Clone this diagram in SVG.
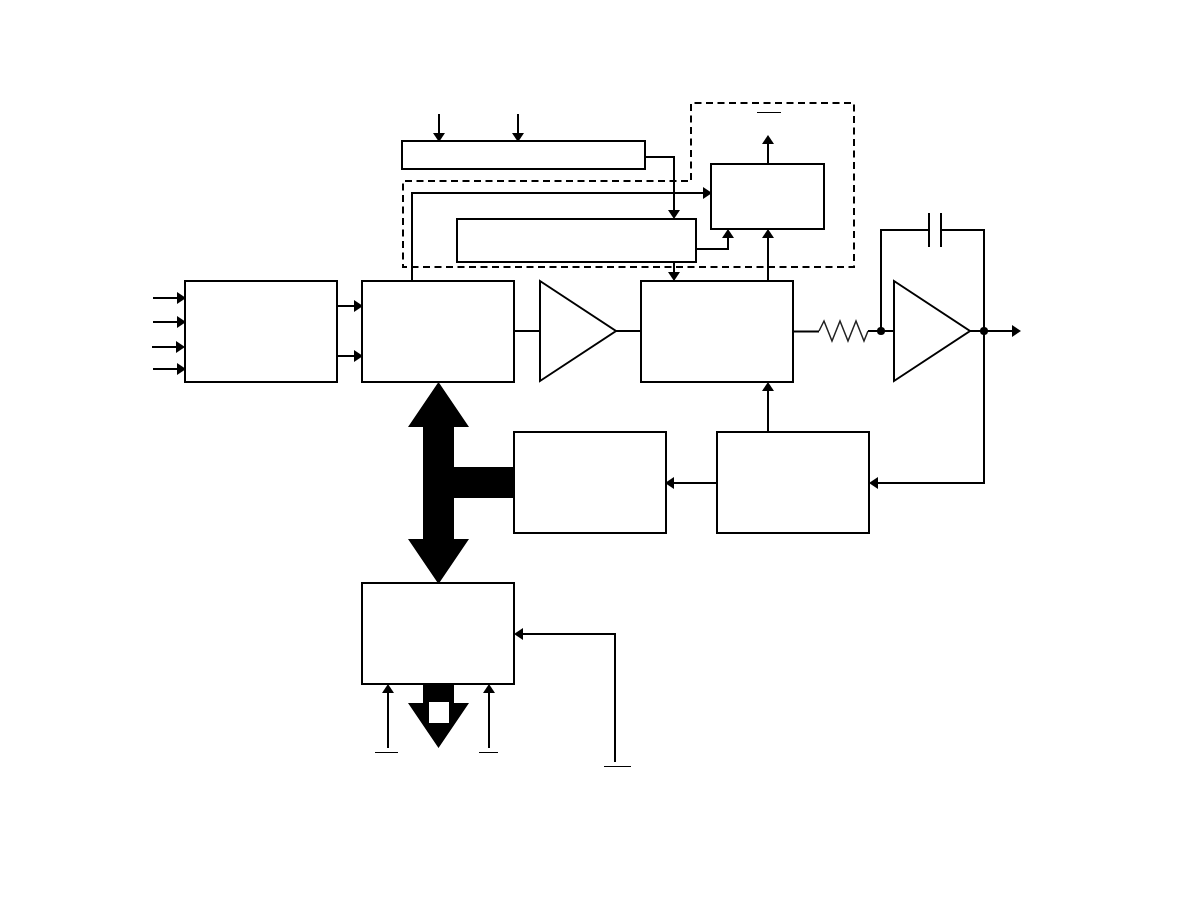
<svg xmlns="http://www.w3.org/2000/svg" width="1188" height="918" viewBox="0 0 1188 918">
<style>
.b{fill:#fff;stroke:#000;stroke-width:2}
.l{fill:none;stroke:#000;stroke-width:2}
.t{fill:none;stroke:#000;stroke-width:1}
.d{fill:none;stroke:#000;stroke-width:2;stroke-dasharray:7 4.5}
.a{fill:#000}
</style>
<defs>
<path id="ar" class="a" d="M0 0L-9 -6V6Z"/>
<path id="al" class="a" d="M0 0L9 -6V6Z"/>
<path id="au" class="a" d="M0 0L-6 9H6Z"/>
<path id="ad" class="a" d="M0 0L-6 -9H6Z"/>
</defs>
<rect width="1188" height="918" fill="#fff"/>
<g id="dashed">
<path class="d" d="M691 180V103H854V267H403V181H691"/>
</g>
<g id="bus">
<path class="a" d="M438.500 382L469 427H454V467H514V498H454V539H469L438.500 584L408 539H423V427H408Z"/>
<path class="a" d="M423 684H454V703H469L438.500 748L408 703H423Z"/>
<rect x="429" y="702" width="20" height="21" fill="#fff"/>
</g>
<g id="connectors">
<path class="l" d="M439 114V141M518 114V141"/>
<use href="#ad" x="439" y="142"/><use href="#ad" x="518" y="142"/>
<path class="l" d="M645 157H674V210"/>
<use href="#ad" x="674" y="219"/>
<path class="l" d="M412 281V193H703"/>
<use href="#ar" x="712" y="193"/>
<path class="l" d="M696 249H728V238"/>
<use href="#au" x="728" y="229"/>
<path class="l" d="M674 262V272"/>
<use href="#ad" x="674" y="281"/>
<path class="l" d="M768 281V238"/>
<use href="#au" x="768" y="229"/>
<path class="l" d="M768 164V144"/>
<use href="#au" x="768" y="135"/>
<path class="l" d="M153 298H178M153 322H178M152 347H177M153 369H178"/>
<use href="#ar" x="186" y="298"/><use href="#ar" x="186" y="322"/><use href="#ar" x="185" y="347"/><use href="#ar" x="186" y="369"/>
<path class="l" d="M337 306H354M337 356H354"/>
<use href="#ar" x="363" y="306"/><use href="#ar" x="363" y="356"/>
<path class="l" d="M514 331H540M616 331H641"/>
<path class="l" d="M793 331.500H819" stroke-width="2.500"/>
<path fill="none" stroke="#222" stroke-width="1.500" d="M819 331L824 321L832 341L840 321L848 341L856 321L864 341L868 331"/>
<path class="l" d="M868 331H894"/>
<path class="l" d="M881 331V230H928M942 230H984V483H878"/>
<path class="l" d="M929 213V247M941 213V247"/>
<circle class="a" cx="881" cy="331" r="4"/>
<circle class="a" cx="984" cy="331" r="4"/>
<path class="l" d="M970 331H1013"/>
<use href="#ar" x="1021" y="331"/>
<use href="#al" x="869" y="483"/>
<path class="l" d="M768 432V391"/>
<use href="#au" x="768" y="382"/>
<path class="l" d="M717 483H674"/>
<use href="#al" x="665" y="483"/>
<path class="l" d="M615 762V634H523"/>
<use href="#al" x="514" y="634"/>
<path class="l" d="M388 748V693M489 748V693"/>
<use href="#au" x="388" y="684"/><use href="#au" x="489" y="684"/>
<path class="t" d="M757 112.500H781M375 752.500H398M479 752.500H498M604 766.500H631"/>
</g>
<g id="n1"><rect class="b" x="402" y="141" width="243" height="28"/></g>
<g id="n2"><rect class="b" x="457" y="219" width="239" height="43"/></g>
<g id="n3"><rect class="b" x="711" y="164" width="113" height="65"/></g>
<g id="n4"><rect class="b" x="185" y="281" width="152" height="101"/></g>
<g id="n5"><rect class="b" x="362" y="281" width="152" height="101"/></g>
<g id="n6"><path class="b" d="M540 281L616 331L540 381Z"/></g>
<g id="n7"><rect class="b" x="641" y="281" width="152" height="101"/></g>
<g id="n8"><path class="b" d="M894 281L970 331L894 381Z"/></g>
<g id="n9"><rect class="b" x="514" y="432" width="152" height="101"/></g>
<g id="n10"><rect class="b" x="717" y="432" width="152" height="101"/></g>
<g id="n11"><rect class="b" x="362" y="583" width="152" height="101"/></g>
</svg>
